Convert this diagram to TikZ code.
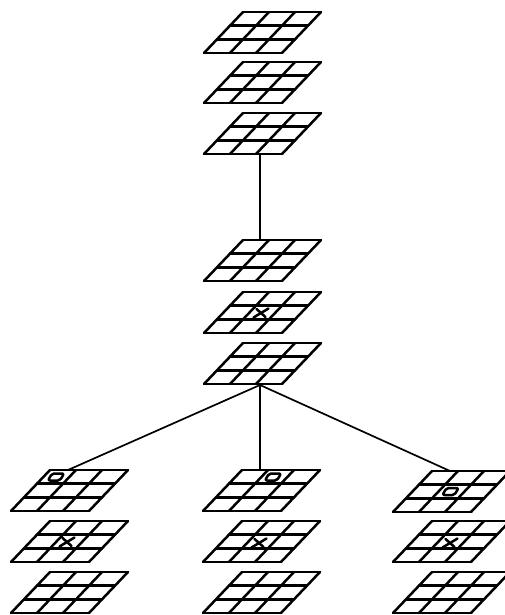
\documentclass[tikz,border=0pt]{standalone}
\tikzset{
  gridline/.style={line width=2.5pt, line join=round, line cap=round},
  link/.style={line width=1.7pt},
  board/.pic={
    \foreach \i in {0,1,2,3}{
      \draw[gridline] (-13*\i,13.667*\i) -- (78-13*\i,13.667*\i);
      \draw[gridline] (26*\i,0) -- (26*\i-39,41);
    }
  },
  xmark/.pic={\draw[gridline] (-7.5,4.5) -- (7.5,-4.5) (-4.5,-4) -- (4.5,4);},
  omark/.pic={\draw[gridline, rounded corners=2pt] (-8,3.5) -- (-4,-3.5) -- (8,-3.5) -- (4,3.5) -- cycle;}
}
\begin{document}
\begin{tikzpicture}[x=1pt,y=-1pt]
\useasboundingbox (0,0) rectangle (505,615);
\clip (0,0) rectangle (505,615);
% top stack
\pic at (243,12) {board};
\pic at (243,62) {board};
\pic at (243,113) {board};
% middle stack
\pic at (243,240) {board};
\pic at (243,292) {board};
\pic at (261,313) {xmark};
\pic at (243,343) {board};
% left column
\pic at (50,470) {board};
\pic at (56,477) {omark};
\pic at (50,521) {board};
\pic at (67,542) {xmark};
\pic at (50,572) {board};
% middle column
\pic at (242,470) {board};
\pic at (273,477) {omark};
\pic at (242,521) {board};
\pic at (259,543) {xmark};
\pic at (242,572) {board};
% right column
\pic at (432,471) {board};
\pic at (450.5,491.5) {omark};
\pic at (432,521) {board};
\pic at (450,543) {xmark};
\pic at (432,572) {board};
% connectors
\coordinate (t3) at (260,153);
\coordinate (m4) at (260,240);
\coordinate (m6) at (260,385);
\coordinate (l1) at (68,470);
\coordinate (c1) at (260,470);
\coordinate (r1) at (450,471);
\draw[link] (t3) -- (m4);
\draw[link] (m6) -- (l1);
\draw[link] (m6) -- (c1);
\draw[link] (m6) -- (r1);
\end{tikzpicture}
\end{document}
